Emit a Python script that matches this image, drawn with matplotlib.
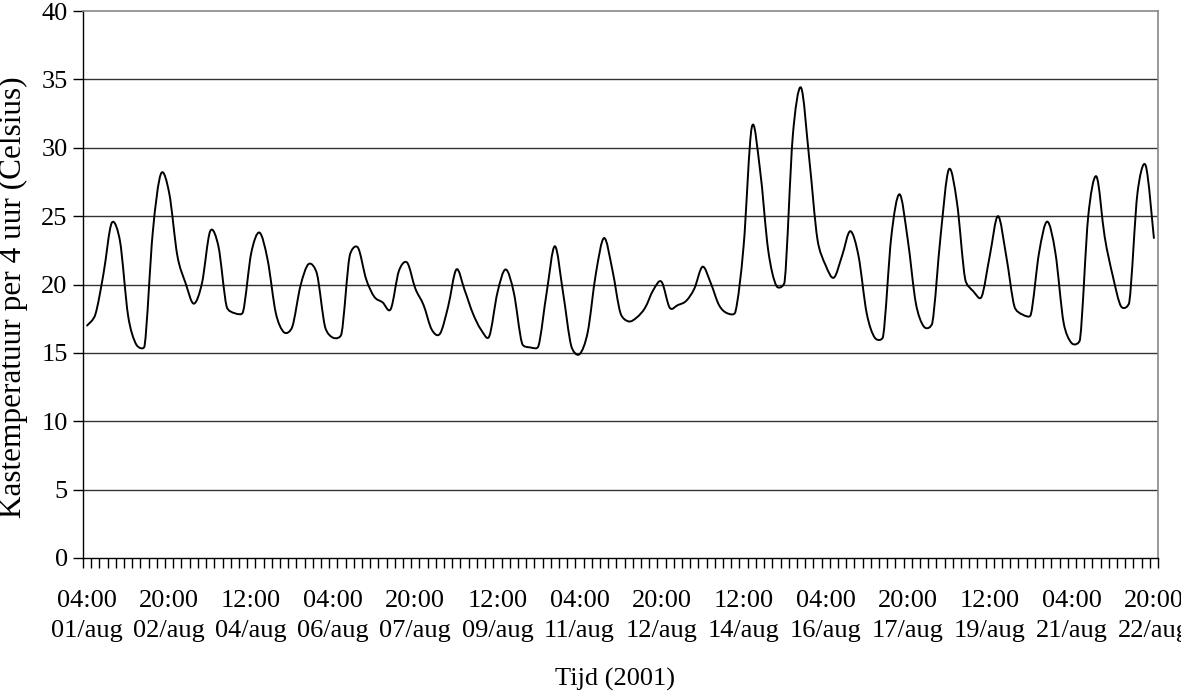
import matplotlib
matplotlib.use("Agg")
import matplotlib.pyplot as plt
from matplotlib.path import Path
from matplotlib.patches import PathPatch
import numpy as np

# Temperature every 4 hours, 01/aug 04:00 .. 22/aug 20:00 (131 readings)
temps = [
    17.0, 17.8, 20.8, 24.5, 23.2, 17.7, 15.6, 15.5, 23.8, 28.1,
    26.7, 22.1, 20.1, 18.6, 20.1, 23.9, 22.8, 18.4, 17.9, 18.0,
    22.3, 23.8, 21.8, 17.9, 16.5, 16.9, 19.9, 21.5, 20.8, 16.9,
    16.1, 16.4, 22.1, 22.7, 20.4, 19.1, 18.7, 18.2, 21.0, 21.6,
    19.7, 18.5, 16.7, 16.4, 18.4, 21.1, 19.6, 17.9, 16.7, 16.2,
    19.4, 21.1, 19.4, 15.7, 15.4, 15.5, 19.4, 22.8, 19.4, 15.5,
    14.9, 16.5, 20.8, 23.4, 21.1, 17.9, 17.3, 17.6, 18.3, 19.6,
    20.2, 18.3, 18.5, 18.8, 19.7, 21.3, 20.1, 18.5, 17.9, 18.0,
    22.8, 31.5, 28.4, 22.5, 19.9, 20.2, 30.9, 34.4, 29.2, 23.3,
    21.4, 20.5, 22.1, 23.9, 22.1, 17.9, 16.1, 16.2, 23.5, 26.6,
    23.3, 18.6, 16.9, 17.2, 23.5, 28.4, 26.0, 20.4, 19.5, 19.1,
    22.1, 25.0, 22.1, 18.4, 17.8, 17.8, 22.3, 24.6, 22.3, 17.2,
    15.7, 16.0, 25.0, 27.9, 23.5, 20.6, 18.4, 18.7, 26.7, 28.7,
    23.4,
]

tick_labels = [
    "04:00\n01/aug", "20:00\n02/aug", "12:00\n04/aug", "04:00\n06/aug",
    "20:00\n07/aug", "12:00\n09/aug", "04:00\n11/aug", "20:00\n12/aug",
    "12:00\n14/aug", "04:00\n16/aug", "20:00\n17/aug", "12:00\n19/aug",
    "04:00\n21/aug", "20:00\n22/aug",
]
label_every = 10
y_ticks = [0, 5, 10, 15, 20, 25, 30, 35, 40]

plt.rcParams['font.family'] = ['Liberation Serif', 'DejaVu Serif']

W, H = 1181, 691
fig = plt.figure(figsize=(W / 100, H / 100), dpi=100)
ax = fig.add_axes([83 / W, 1 - 558 / H, (1158 - 83) / W, (558 - 11) / H])

n = len(temps)
ax.set_xlim(-0.5, n - 0.5)
ax.set_ylim(0, 40)

# Excel-style smoothed line: Bezier through every reading, control arms
# computed in screen space and capped at half the segment length.
pts = ax.transData.transform(np.column_stack([np.arange(n, dtype=float),
                                              np.array(temps, dtype=float)]))
def dist(a, b):
    return float(np.hypot(*(a - b)))

verts = [pts[0]]
codes = [Path.MOVETO]
f = 1.0 / 6.0
for i in range(n - 1):
    p0 = pts[max(i - 1, 0)]
    p1 = pts[i]
    p2 = pts[i + 1]
    p3 = pts[min(i + 2, n - 1)]
    d12 = dist(p1, p2)
    d02 = dist(p0, p2)
    d13 = dist(p1, p3)
    f0 = f if d02 * f < d12 / 2 else (d12 / 2 / d02 if d02 > 0 else 0)
    f1 = f if d13 * f < d12 / 2 else (d12 / 2 / d13 if d13 > 0 else 0)
    c1 = p1 + f0 * (p2 - p0)
    c2 = p2 - f1 * (p3 - p1)
    verts += [c1, c2, p2]
    codes += [Path.CURVE4] * 3
verts = ax.transData.inverted().transform(np.array(verts))
patch = PathPatch(Path(verts, codes), facecolor='none', edgecolor='black',
                  lw=1.4, zorder=3, capstyle='round', joinstyle='round')
ax.add_patch(patch)

# gridlines
for v in y_ticks[1:-1]:
    ax.axhline(v, color='#333333', lw=1.0, zorder=1)

ax.set_yticks(y_ticks)
ax.set_yticklabels([str(v) for v in y_ticks])
ax.tick_params(axis='y', direction='out', length=7, width=1, labelsize=19, pad=4)

ax.set_xticks(np.arange(0, n, label_every))
ax.set_xticklabels(tick_labels)
ax.set_xticks(np.arange(n + 1) - 0.5, minor=True)
ax.tick_params(axis='x', which='major', length=0, labelsize=19, pad=23)
ax.tick_params(axis='x', which='minor', direction='out', length=7, width=1)
for lab in ax.get_xticklabels():
    lab.set_linespacing(1.5)

for s in ['top', 'right']:
    ax.spines[s].set_color('#888888')
    ax.spines[s].set_linewidth(1.2)
for s in ['left', 'bottom']:
    ax.spines[s].set_color('black')
    ax.spines[s].set_linewidth(1.0)

fig.text(615 / W, 1 - 679 / H, "Tijd (2001)", ha='center', va='center', fontsize=19)
fig.text(13 / W, 1 - 297 / H, "Kastemperatuur per 4 uur (Celsius)", ha='center', va='center',
         rotation=90, fontsize=22.5)

fig.savefig("out.png", dpi=100, facecolor='white')
